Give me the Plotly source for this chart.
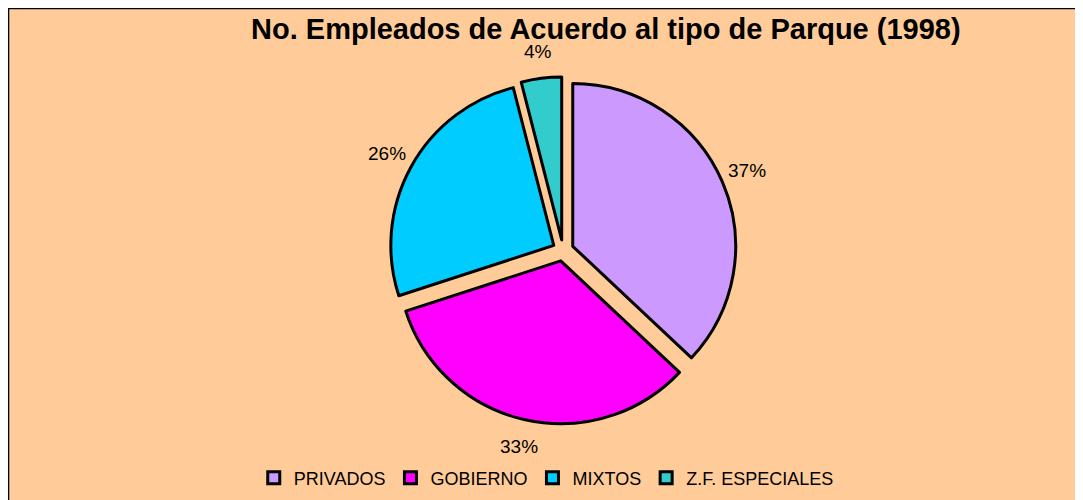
import math
import plotly.graph_objects as go

labels = ["PRIVADOS", "GOBIERNO", "MIXTOS", "Z.F. ESPECIALES"]
values = [37, 33, 26, 4]
colors = ["#CC99FF", "#FF00FF", "#00CCFF", "#33CCCC"]
title = "No. Empleados de Acuerdo al tipo de Parque (1998)"

W, H = 1083, 500
PULL = 0.065
dom_x = [0.352, 0.673]
dom_y = [0.168, 0.862]

fig = go.Figure(go.Pie(
    labels=labels, values=values, sort=False, direction="clockwise", rotation=0,
    marker=dict(colors=colors, line=dict(color="black", width=3)),
    pull=[PULL] * len(values),
    textinfo="none",
    domain=dict(x=dom_x, y=dom_y),
    hoverinfo="label+percent",
))

# percentage labels placed along each slice's mid-angle, outside the pie
cx = (dom_x[0] + dom_x[1]) / 2 * W
cy = (1 - (dom_y[0] + dom_y[1]) / 2) * H
half = min((dom_x[1] - dom_x[0]) * W, (dom_y[1] - dom_y[0]) * H) / 2
R = half + 27
total = sum(values)
cum = 0
annotations = []
for v in values:
    mid = (cum + v / 2) / total * 2 * math.pi
    cum += v
    x = cx + R * math.sin(mid)
    y = cy - R * math.cos(mid)
    annotations.append(dict(
        text=f"{round(100 * v / total)}%", x=x / W, y=1 - y / H, xref="paper", yref="paper",
        showarrow=False, xanchor="center", yanchor="middle",
        font=dict(family="Arial, Liberation Sans", size=19, color="black")))

fig.update_layout(
    width=W, height=H,
    margin=dict(l=0, r=0, t=0, b=0),
    paper_bgcolor="#FFCC99", plot_bgcolor="#FFCC99",
    title=dict(text="<b>" + title + "</b>", x=0.552, xanchor="center", y=0.958, yanchor="middle",
               font=dict(family="Arial, Liberation Sans", size=29, color="black")),
    legend=dict(orientation="h", x=0.497, xanchor="center", y=0.06, yanchor="middle",
                font=dict(family="Arial, Liberation Sans", size=18, color="black"),
                bgcolor="rgba(0,0,0,0)", itemwidth=30, tracegroupgap=0),
    annotations=annotations,
    shapes=[dict(type="rect", xref="paper", yref="paper", x0=0.0005, x1=1.01, y0=-0.01, y1=0.999,
                 line=dict(color="black", width=1.5), fillcolor="rgba(0,0,0,0)")],
    font=dict(family="Arial, Liberation Sans"),
)

fig.write_html("out.html")
